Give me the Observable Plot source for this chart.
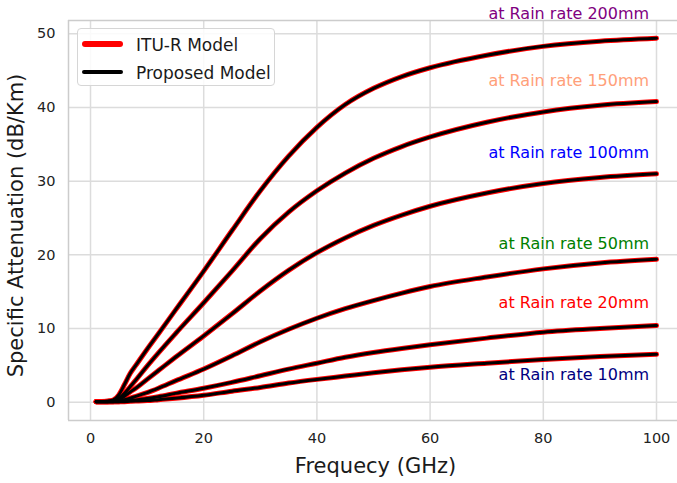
<!DOCTYPE html>
<html>
<head>
<meta charset="utf-8">
<script src="https://cdn.jsdelivr.net/npm/d3@7"></script>
<script src="https://cdn.jsdelivr.net/npm/@observablehq/plot@0.6"></script>
<style>
  html, body { margin: 0; padding: 0; background: #fff; }
  #wrap { position: relative; width: 677px; height: 483px; overflow: hidden; font-family: "DejaVu Sans", sans-serif; }
  #wrap svg { position: absolute; left: 0; top: 0; }
  .legend { position: absolute; left: 77px; top: 28px; width: 198px; height: 58px; border: 1px solid #d6d6d6; border-radius: 4px; background: rgba(255,255,255,0.85); box-sizing: border-box; }
  .legend .sw { position: absolute; left: 4px; width: 41px; border-radius: 4px; }
  .legend .lb { position: absolute; left: 58px; font-size: 17px; color: #1a1a1a; white-space: nowrap; line-height: 1; }
</style>
</head>
<body>
<div id="wrap"></div>
<script>
// ---- data ----
const freq = [1, 2, 3, 4, 5, 6, 7, 8, 10, 12, 15, 20, 25, 30, 35, 40, 45, 50, 55, 60, 70, 80, 90, 100];
const rain200 = [0.1, 0.1, 0.15, 0.3, 1.0, 2.4, 3.9, 5.0, 7.2, 9.3, 12.5, 17.8, 23.3, 28.7, 33.4, 37.3, 40.4, 42.6, 44.2, 45.4, 47.1, 48.3, 49.0, 49.4];
const rain150 = [0.1, 0.1, 0.12, 0.2, 0.5, 1.2, 2.1, 3.0, 4.9, 6.7, 9.3, 13.5, 17.8, 22.2, 25.8, 28.7, 31.1, 33.1, 34.7, 36.0, 38.0, 39.4, 40.3, 40.8];
const rain100 = [0.05, 0.05, 0.08, 0.12, 0.3, 0.8, 1.4, 1.9, 3.1, 4.3, 6.1, 9.0, 12.0, 15.1, 17.9, 20.3, 22.3, 24.0, 25.4, 26.6, 28.4, 29.7, 30.5, 31.0];
const rain50  = [0.05, 0.05, 0.05, 0.08, 0.15, 0.35, 0.55, 0.8, 1.3, 1.9, 2.9, 4.5, 6.3, 8.2, 9.9, 11.4, 12.7, 13.8, 14.8, 15.7, 17.0, 18.1, 18.9, 19.4];
const rain20  = [0.05, 0.05, 0.05, 0.05, 0.08, 0.15, 0.22, 0.3, 0.5, 0.75, 1.2, 1.9, 2.7, 3.6, 4.5, 5.3, 6.1, 6.75, 7.3, 7.8, 8.7, 9.5, 10.0, 10.4];
const rain10  = [0.05, 0.05, 0.05, 0.05, 0.05, 0.08, 0.12, 0.15, 0.22, 0.35, 0.55, 0.95, 1.5, 2.0, 2.6, 3.1, 3.55, 4.0, 4.4, 4.75, 5.3, 5.8, 6.2, 6.5];
const rates = ["200mm", "150mm", "100mm", "50mm", "20mm", "10mm"];
const labelColors = ["purple", "lightsalmon", "blue", "green", "red", "navy"];
const labelX = 98.7;
const labelY = [52.0, 42.9, 33.1, 20.8, 12.8, 3.0];
const xTicks = [0, 20, 40, 60, 80, 100];
const yTicks = [0, 10, 20, 30, 40, 50];
const xDomain = [-3.89, 103.71];
const yDomain = [-2.48, 51.81];
const xTitle = "Frequecy (GHz)";
const yTitle = "Specific Attenuation (dB/Km)";
const legendNames = ["ITU-R Model", "Proposed Model"];

// ---- build tables ----
const series = [rain200, rain150, rain100, rain50, rain20, rain10];
const rows = [];
rates.forEach((r, i) => freq.forEach((f, j) => rows.push({rate: r, f, v: series[i][j]})));
const labels = rates.map((r, i) => ({x: labelX, y: labelY[i], text: "at Rain rate " + r, color: labelColors[i]}));

const plot = Plot.plot({
  width: 677,
  height: 483,
  marginLeft: 68,
  marginRight: 0,
  marginTop: 20,
  marginBottom: 63,
  style: {fontFamily: "DejaVu Sans, sans-serif", fontSize: "14.5px", color: "#222", background: "transparent", overflow: "visible"},
  x: {domain: xDomain, label: null},
  y: {domain: yDomain, label: null},
  color: {type: "identity"},
  marks: [
    Plot.ruleX(xTicks, {stroke: "#dcdcdc", strokeWidth: 1.5}),
    Plot.ruleY(yTicks, {stroke: "#dcdcdc", strokeWidth: 1.5}),
    Plot.ruleX([xDomain[0]], {stroke: "#cccccc", strokeWidth: 1.5}),
    Plot.ruleY(yDomain, {stroke: "#cccccc", strokeWidth: 1.5}),
    Plot.axisX(xTicks, {tickSize: 0, tickPadding: 12, fontSize: 14.5, label: null}),
    Plot.axisY(yTicks, {tickSize: 0, tickPadding: 13, fontSize: 14.5, label: null}),
    Plot.line(rows, {x: "f", y: "v", z: "rate", stroke: "red", strokeWidth: 5, curve: "monotone-x"}),
    Plot.line(rows, {x: "f", y: "v", z: "rate", stroke: "black", strokeWidth: 3, curve: "monotone-x"}),
    Plot.text(labels, {x: "x", y: "y", text: "text", fill: "color", textAnchor: "end", lineAnchor: "bottom", fontSize: 16}),
    Plot.text([xTitle], {text: d => d, frameAnchor: "bottom", textAnchor: "middle", lineAnchor: "top", dy: 38, dx: 2.5, fontSize: 21, fill: "#1a1a1a"}),
    Plot.text([yTitle], {text: d => d, frameAnchor: "left", textAnchor: "middle", rotate: -90, lineAnchor: "top", dx: -60, dy: 5, fontSize: 21, fill: "#1a1a1a"})
  ]
});

const wrap = document.getElementById("wrap");
wrap.appendChild(plot);

// legend (HTML overlay, upper left)
const lg = document.createElement("div");
lg.className = "legend";
const swatches = [{c: "red", h: 6, top: 12}, {c: "black", h: 3.5, top: 40}];
legendNames.forEach((name, i) => {
  const sw = document.createElement("div");
  sw.className = "sw";
  sw.style.background = swatches[i].c;
  sw.style.height = swatches[i].h + "px";
  sw.style.top = (swatches[i].top - swatches[i].h / 2 + 3) + "px";
  lg.appendChild(sw);
  const lb = document.createElement("div");
  lb.className = "lb";
  lb.textContent = name;
  lb.style.top = (swatches[i].top - 4) + "px";
  lg.appendChild(lb);
});
wrap.appendChild(lg);
</script>
</body>
</html>
